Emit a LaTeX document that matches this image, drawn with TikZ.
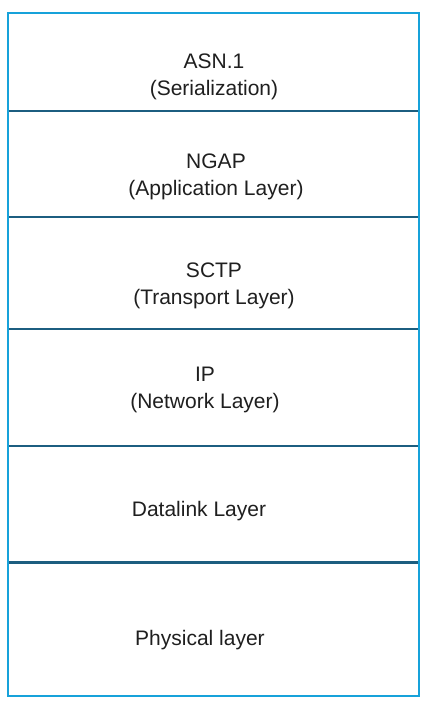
\documentclass[tikz,border=0pt]{standalone}
\usepackage{fontspec}
\setmainfont{Liberation Sans}
\definecolor{framecol}{HTML}{17A2DA}
\definecolor{sepcol}{HTML}{1C5E80}
\tikzset{
  layertext/.style={align=center, inner sep=0pt, font=\fontsize{21}{27}\selectfont, text=black!88},
  frameline/.style={draw=framecol, line width=2pt},
  sepline/.style={draw=sepcol, line width=2.3pt}
}
\begin{document}
\begin{tikzpicture}[x=1pt,y=-1pt]
\useasboundingbox (0,0) rectangle (423,706);
\fill[white] (0,0) rectangle (423,706);
\coordinate (tl) at (8,13);
\coordinate (br) at (418.5,696);
\foreach \n/\y in {a/111,b/217,c/329,d/446,e/562.5}{
  \coordinate (L\n) at (8,\y);
  \coordinate (R\n) at (418.5,\y);
}
\draw[sepline] (La) -- (Ra);
\draw[sepline] (Lb) -- (Rb);
\draw[sepline] (Lc) -- (Rc);
\draw[sepline] (Ld) -- (Rd);
\draw[sepline] (Le) -- (Re);
\draw[frameline] (tl) rectangle (br);
\node[layertext] (asn) at (214,76.7) {ASN.1\\(Serialization)};
\node[layertext] (ngap) at (216,176.7) {NGAP\\(Application Layer)};
\node[layertext] (sctp) at (214,285.7) {SCTP\\(Transport Layer)};
\node[layertext] (ip) at (205,389.7) {IP\\(Network Layer)};
\node[layertext, anchor=base] (dl) at (199,516.7) {Datalink Layer};
\node[layertext, anchor=base] (phy) at (200,645) {Physical layer};
\end{tikzpicture}
\end{document}
